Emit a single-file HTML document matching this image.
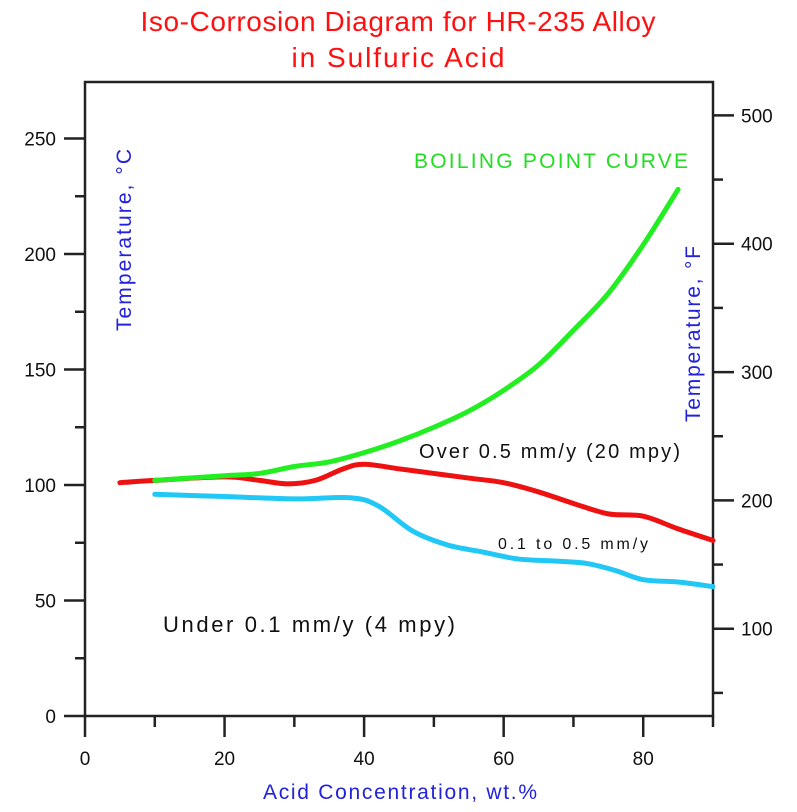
<!DOCTYPE html>
<html><head><meta charset="utf-8"><style>
body{margin:0;background:#fff;}
svg{display:block;font-family:"Liberation Sans",sans-serif;}
</style></head><body>
<svg id="chart" width="797" height="812" viewBox="0 0 797 812">
<text x="398" y="31" text-anchor="middle" font-size="28" fill="#ff1010" textLength="515">Iso-Corrosion Diagram for HR-235 Alloy</text>
<text x="398" y="67" text-anchor="middle" font-size="28" fill="#ff1010" textLength="213">in Sulfuric Acid</text>
<rect x="85" y="82" width="628" height="634" fill="none" stroke="#222" stroke-width="2.5"/>
<g id="axes"></g>
<g id="series"></g>
<text transform="translate(131,240) rotate(-90)" text-anchor="middle" font-size="21" fill="#2222dd" textLength="182">Temperature, °C</text>
<text transform="translate(700,334) rotate(-90)" text-anchor="middle" font-size="21" fill="#2222dd" textLength="176">Temperature, °F</text>
<text x="400" y="799" text-anchor="middle" font-size="21" fill="#2222dd" textLength="274">Acid Concentration, wt.%</text>
<text x="414" y="168" font-size="21" fill="#22dd22" textLength="274">BOILING POINT CURVE</text>
<text x="419" y="458" font-size="20" fill="#111" textLength="261">Over 0.5 mm/y (20 mpy)</text>
<text x="498" y="549" font-size="16" fill="#111" textLength="150">0.1 to 0.5 mm/y</text>
<text x="163" y="632" font-size="22" fill="#111" textLength="292">Under 0.1 mm/y (4 mpy)</text>
</svg>
<script>
const xTicks=[0,20,40,60,80];
const yTicksC=[0,50,100,150,200,250];
const yTicksF=[100,200,300,400,500];
const boilX=[10,20,25,30,35,40,45,50,55,60,65,70,75,80,85];
const boilY=[102,104,105,108,110,114,119,125,132,141,152,167,183,204,228];
const redX=[5,10,20,25,29,33,37,40,45,50,55,60,65,70,75,80,85,90];
const redY=[101,102,103.5,102,100.5,102,107,109,107,105,103,101,97,92,87.5,86.5,81,76];
const blueX=[10,20,30,38,42,47,52,57,62,68,72,76,80,85,90];
const blueY=[96,95,94,94.5,91,80,74,71,68,67,66,63,59,58,56];
const X0=85,X1=713,Y0=716,Y1=82,XMAX=90,YMAX=(716-82)/2.31;
const sx=v=>X0+v/XMAX*(X1-X0);
const sy=v=>Y0-v/YMAX*(Y0-Y1);
const fToC=f=>(f-32)*5/9;
const NS='http://www.w3.org/2000/svg';
const axes=document.getElementById('axes'),ser=document.getElementById('series');
function mk(tag,attrs,parent){const e=document.createElementNS(NS,tag);for(const k in attrs)e.setAttribute(k,attrs[k]);parent.appendChild(e);return e;}
for(let v=0;v<=90;v+=10){const major=v%20===0;
const t=mk('line',{x1:sx(v),x2:sx(v),y1:Y0,y2:Y0+(major?21:11),stroke:'#222','stroke-width':2.5},axes);

}
xTicks.forEach(v=>{const t=mk('text',{x:sx(v),y:765,'text-anchor':'middle','font-size':19,fill:'#111'},axes);t.textContent=v;

});
for(let v=0;v<=250;v+=25){const major=v%50===0;
const t=mk('line',{x1:X0-(major?21:10),x2:X0,y1:sy(v),y2:sy(v),stroke:'#222','stroke-width':2.5},axes);

}
yTicksC.forEach(v=>{const t=mk('text',{x:56,y:sy(v)+7,'text-anchor':'end','font-size':19,fill:'#111'},axes);t.textContent=v;

});
for(let f=50;f<=500;f+=50){const major=f%100===0;
const t=mk('line',{x1:X1,x2:X1+(major?21:10),y1:sy(fToC(f)),y2:sy(fToC(f)),stroke:'#222','stroke-width':2.5},axes);

}
yTicksF.forEach(f=>{const t=mk('text',{x:741,y:sy(fToC(f))+7,'font-size':19,fill:'#111'},axes);t.textContent=f;

});
function path(xs,ys){const p=xs.map((x,i)=>[sx(x),sy(ys[i])]);let d='M'+p[0][0]+','+p[0][1];
for(let i=0;i<p.length-1;i++){const a=p[Math.max(0,i-1)],b=p[i],c=p[i+1],e=p[Math.min(p.length-1,i+2)];
d+=' C'+(b[0]+(c[0]-a[0])/6)+','+(b[1]+(c[1]-a[1])/6)+' '+(c[0]-(e[0]-b[0])/6)+','+(c[1]-(e[1]-b[1])/6)+' '+c[0]+','+c[1];}return d;}
const b=mk('path',{d:path(blueX,blueY),fill:'none',stroke:'#22c8f5','stroke-width':5,'stroke-linecap':'round'},ser);


const r=mk('path',{d:path(redX,redY),fill:'none',stroke:'#ee1111','stroke-width':5,'stroke-linecap':'round'},ser);


const g=mk('path',{d:path(boilX,boilY),fill:'none',stroke:'#22ee22','stroke-width':5,'stroke-linecap':'round'},ser);


</script>
</body></html>
